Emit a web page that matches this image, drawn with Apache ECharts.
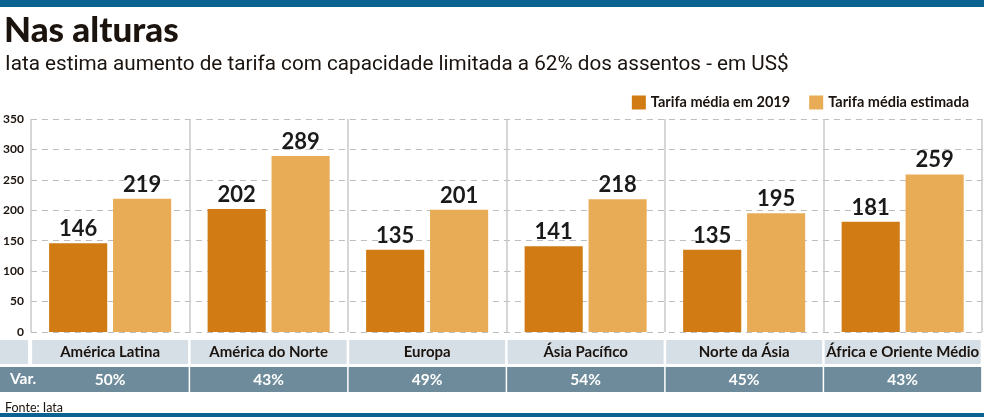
<!DOCTYPE html>
<html>
<head>
<meta charset="utf-8">
<script src="https://cdn.jsdelivr.net/npm/echarts@6/dist/echarts.min.js"></script>
<style>
  html, body { margin: 0; padding: 0; background: #fff; }
  #chart { width: 984px; height: 417px; }
</style>
</head>
<body>
<div id="chart"></div>
<script>
// dados
const categorias = ['América Latina', 'América do Norte', 'Europa', 'Ásia Pacífico', 'Norte da Ásia', 'África e Oriente Médio'];
const tarifa2019 = [146, 202, 135, 141, 135, 181];
const tarifaEstimada = [219, 289, 201, 218, 195, 259];
const variacao = ['50%', '43%', '49%', '54%', '45%', '43%'];
const yTicks = [0, 50, 100, 150, 200, 250, 300, 350];

const corEscura = '#d07b14';
const corClara = '#e9ac56';
const faixaCinza = '#d6dfe6';
const faixaVar = '#6d8b9a';
const azul = '#0b6391';
const fonte = 'Lato';

const chart = echarts.init(document.getElementById('chart'));

const labelBarra = {
  show: true,
  position: 'top',
  distance: 3,
  fontFamily: fonte,
  fontWeight: 'bold',
  fontSize: 22,
  color: '#1a1a1a'
};

chart.setOption({
  animation: false,
  backgroundColor: '#fff',
  title: [
    {
      text: 'Nas alturas',
      left: -1, top: 8,
      textStyle: { fontFamily: fonte, fontWeight: 900, fontSize: 35, color: '#1b130e' }
    },
    {
      text: 'Iata estima aumento de tarifa com capacidade limitada a 62% dos assentos - em US$',
      left: 0, top: 49,
      textStyle: { fontFamily: 'Roboto', fontWeight: 'normal', fontSize: 20.7, color: '#1b130e' }
    },
    {
      text: 'Fonte: Iata',
      left: 0, top: 396,
      textStyle: { fontFamily: fonte, fontWeight: 'normal', fontSize: 12.5, color: '#1b130e' }
    }
  ],
  legend: {
    top: 90,
    right: 10,
    icon: 'rect',
    itemWidth: 14,
    itemHeight: 14,
    itemGap: 19,
    textStyle: { fontFamily: fonte, fontWeight: 'bold', fontSize: 14.5, color: '#1b130e' },
    data: ['Tarifa média em 2019', 'Tarifa média estimada']
  },
  grid: { left: 29, right: 2, top: 119, bottom: 85 },
  xAxis: [
    {
      type: 'category',
      data: categorias,
      axisLine: { show: false },
      axisTick: { show: false },
      splitLine: { show: true, lineStyle: { color: '#c8c8c8', width: 1.5 } },
      axisLabel: {
        interval: 0,
        margin: 8,
        width: 156,
        height: 24,
        lineHeight: 24,
        align: 'center',
        backgroundColor: faixaCinza,
        fontFamily: fonte,
        fontWeight: 'bold',
        fontSize: 15,
        color: '#1b130e'
      }
    },
    {
      type: 'category',
      data: variacao,
      position: 'bottom',
      offset: 35,
      axisLine: { show: false },
      axisTick: { show: false },
      axisLabel: {
        interval: 0,
        margin: 0,
        width: 157,
        height: 25,
        lineHeight: 25,
        align: 'center',
        backgroundColor: faixaVar,
        fontFamily: fonte,
        fontWeight: 'bold',
        fontSize: 15.5,
        color: '#ffffff'
      }
    }
  ],
  yAxis: {
    type: 'value',
    min: yTicks[0],
    max: yTicks[yTicks.length - 1],
    interval: 50,
    axisLine: { show: false },
    axisTick: { show: false },
    splitLine: { lineStyle: { color: '#bdbdbd', type: [6, 5], width: 1.2 } },
    axisLabel: {
      margin: 7,
      fontFamily: fonte,
      fontWeight: 'bold',
      fontSize: 12,
      color: '#1b130e'
    }
  },
  series: [
    {
      name: 'Tarifa média em 2019',
      type: 'bar',
      data: tarifa2019,
      barCategoryGap: '23%',
      barGap: '10%',
      itemStyle: { color: corEscura },
      label: labelBarra
    },
    {
      name: 'Tarifa média estimada',
      type: 'bar',
      data: tarifaEstimada,
      itemStyle: { color: corClara },
      label: labelBarra
    }
  ],
  graphic: [
    { type: 'rect', left: 0, top: 0, shape: { width: 984, height: 7 }, style: { fill: azul } },
    { type: 'rect', left: 0, top: 413, shape: { width: 984, height: 4 }, style: { fill: azul } },
    { type: 'rect', left: 0, top: 340, shape: { width: 28, height: 24 }, style: { fill: faixaCinza } },
    { type: 'rect', left: 0, top: 367, shape: { width: 32, height: 25 }, style: { fill: faixaVar }, z: 10 },
    {
      type: 'text', left: 10, top: 371, z: 11,
      style: { text: 'Var.', fontFamily: fonte, fontWeight: 'bold', fontSize: 15.5, fill: '#ffffff' }
    }
  ]
});
</script>
</body>
</html>
